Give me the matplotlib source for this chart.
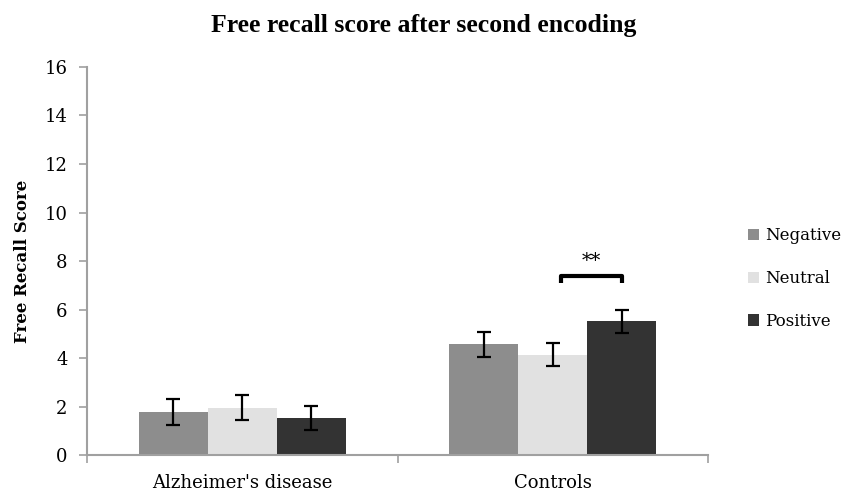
import numpy as np
import matplotlib.pyplot as plt

# données
groups = ["Alzheimer's disease", "Controls"]
conditions = ["Negative", "Neutral", "Positive"]
negative = [1.77, 4.56]
neutral = [1.95, 4.14]
positive = [1.52, 5.51]
err_negative = [0.53, 0.50]
err_neutral = [0.52, 0.47]
err_positive = [0.50, 0.48]
colors = ["#8d8d8d", "#e1e1e1", "#333333"]

plt.rcParams['font.family'] = ['DejaVu Serif']

fig = plt.figure(figsize=(8.47, 4.94), dpi=100)
ax = fig.add_axes([0.1027, 0.0789, 0.7334, 0.7855])

x = np.arange(len(groups))
w = 0.222
series = [negative, neutral, positive]
errs = [err_negative, err_neutral, err_positive]
for i, (vals, e) in enumerate(zip(series, errs)):
    ax.bar(x + (i - 1) * w, vals, w, color=colors[i], label=conditions[i], zorder=2)
    ax.errorbar(x + (i - 1) * w, vals, yerr=e, fmt='none', ecolor='black',
                elinewidth=1.6, capsize=4.8, capthick=1.6, zorder=3)

# crochet de significativité
bx0, bx1 = x[1] + 0.025, x[1] + w
ax.plot([bx0, bx0, bx1, bx1], [7.1, 7.38, 7.38, 7.1], color='black', lw=3,
        solid_joinstyle='round', solid_capstyle='butt', zorder=4)
ax.text((bx0 + bx1) / 2, 8.0, "**", ha='center', va='center', fontsize=14)

ax.set_xlim(-0.5, 1.5)
ax.set_ylim(0, 16)
ax.set_yticks(np.arange(0, 17, 2))
ax.set_xticks(x)
ax.set_xticklabels(groups, fontsize=13)
ax.set_xticks([-0.5, 0.5, 1.5], minor=True)
ax.tick_params(axis='x', which='major', length=0, pad=14)
ax.tick_params(axis='x', which='minor', length=6, color='#a0a0a0', width=1.2)
ax.tick_params(axis='y', length=6, color='#a0a0a0', width=1.2, labelsize=13, pad=8)
for s in ['top', 'right']:
    ax.spines[s].set_visible(False)
for s in ['left', 'bottom']:
    ax.spines[s].set_color('#a0a0a0')
    ax.spines[s].set_linewidth(1.5)

ax.set_ylabel("Free Recall Score", fontsize=12, fontweight='bold', labelpad=10)
fig.suptitle("Free recall score after second encoding", fontsize=18.5,
             fontweight='bold', family=['Liberation Serif'], y=0.971)

ax.legend(loc='center left', bbox_to_anchor=(1.04, 0.455), frameon=False,
          fontsize=12, handlelength=0.65, handleheight=0.65, handletextpad=0.35,
          labelspacing=1.55)

fig.savefig("out.png", dpi=100)
